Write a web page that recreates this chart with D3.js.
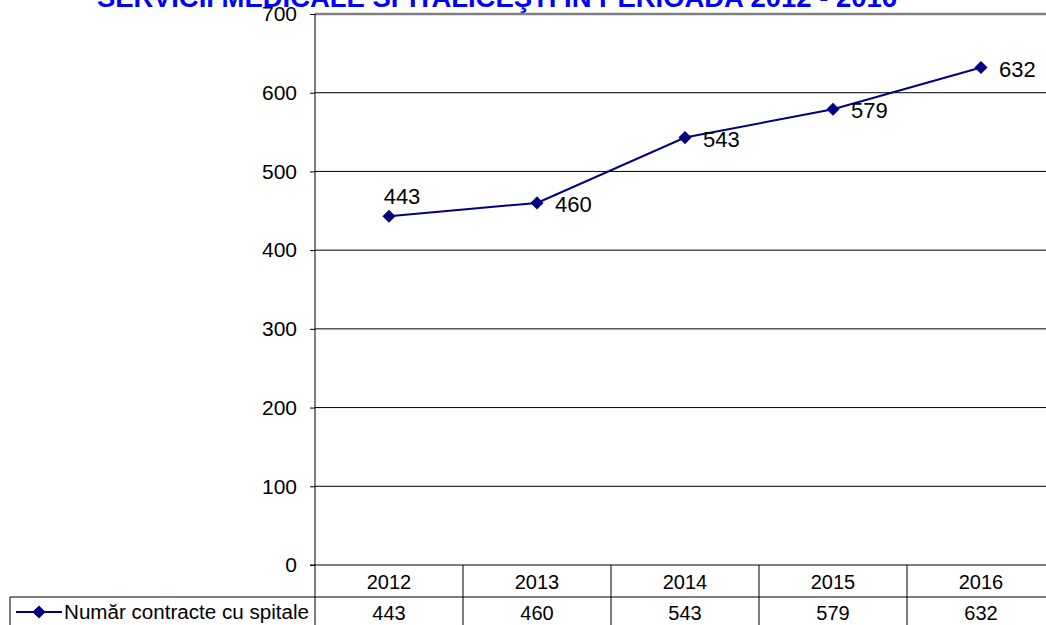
<!DOCTYPE html>
<html lang="ro">
<head>
<meta charset="utf-8" />
<title>Număr contracte cu spitale</title>
<script src="https://cdn.jsdelivr.net/npm/d3@7"></script>
<style>
  body { margin: 0; background: #fff; }
  svg { display: block; }
</style>
</head>
<body>
<svg id="chart" width="1046" height="625"></svg>
<script>
// data
const years = ["2012", "2013", "2014", "2015", "2016"];
const contracts = [443, 460, 543, 579, 632];
const yTicks = [0, 100, 200, 300, 400, 500, 600, 700];
const seriesName = "Număr contracte cu spitale";
const title = "SERVICII MEDICALE SPITALICEŞTI ÎN PERIOADA 2012 - 2016";

const font = "Liberation Sans, Arial, sans-serif";
const navy = "#000080";

const svg = d3.select("#chart").attr("font-family", font);

// plot frame
const plot = { left: 315, right: 1055, top: 14, bottom: 565 };

const x = d3.scaleBand().domain(years).range([plot.left, plot.right]).padding(0);
const y = d3.scaleLinear().domain([0, 700]).range([plot.bottom, plot.top]);

// title (cut at top edge like the source)
svg.append("text")
  .attr("x", 497).attr("y", 7)
  .attr("text-anchor", "middle")
  .attr("font-size", 27).attr("font-weight", "bold")
  .attr("textLength", 800)
  .attr("lengthAdjust", "spacingAndGlyphs")
  .attr("fill", "#0000ff")
  .text(title);

// gridlines
svg.append("g")
  .selectAll("line")
  .data(yTicks.filter(d => d > 0))
  .join("line")
  .attr("x1", plot.left).attr("x2", plot.right)
  .attr("y1", d => y(d)).attr("y2", d => y(d))
  .attr("stroke", d => d === 700 ? "#808080" : "#000")
  .attr("stroke-width", d => d === 700 ? 2.5 : 1);

// y axis
const yAxis = svg.append("g")
  .attr("transform", `translate(${plot.left},0)`)
  .call(d3.axisLeft(y).tickValues(yTicks).tickSize(5).tickSizeOuter(0).tickPadding(13));
yAxis.select(".domain").attr("stroke", "#000").attr("d", `M0,${plot.top}V625`);
yAxis.selectAll(".tick line").attr("stroke", "#000");
yAxis.selectAll("text")
  .attr("font-family", font).attr("font-size", 21).attr("fill", "#000");

// data table: x-axis line, row separator, column separators
svg.append("line")
  .attr("x1", plot.left - 5).attr("x2", plot.right)
  .attr("y1", plot.bottom).attr("y2", plot.bottom)
  .attr("stroke", "#000").attr("stroke-width", 1.2);
svg.append("line")
  .attr("x1", 10).attr("x2", plot.right)
  .attr("y1", plot.bottom + 32).attr("y2", plot.bottom + 32)
  .attr("stroke", "#000");
svg.append("line")
  .attr("x1", 10).attr("x2", 10)
  .attr("y1", plot.bottom + 32).attr("y2", 625)
  .attr("stroke", "#000");
svg.append("g")
  .selectAll("line")
  .data(years.slice(1))
  .join("line")
  .attr("x1", d => x(d)).attr("x2", d => x(d))
  .attr("y1", plot.bottom).attr("y2", 625)
  .attr("stroke", "#000");

// header row (years)
svg.append("g")
  .selectAll("text")
  .data(years)
  .join("text")
  .attr("x", d => x(d) + x.bandwidth() / 2)
  .attr("y", plot.bottom + 24)
  .attr("text-anchor", "middle")
  .attr("font-size", 20)
  .text(d => d);

// values row
svg.append("g")
  .selectAll("text")
  .data(contracts)
  .join("text")
  .attr("x", (d, i) => x(years[i]) + x.bandwidth() / 2)
  .attr("y", plot.bottom + 55)
  .attr("text-anchor", "middle")
  .attr("font-size", 20)
  .text(d => d);

// legend key in table
const diamond = d3.symbol().type(d3.symbolDiamond2).size(110);
svg.append("line")
  .attr("x1", 16).attr("x2", 62)
  .attr("y1", 612).attr("y2", 612)
  .attr("stroke", navy).attr("stroke-width", 2);
svg.append("path")
  .attr("d", diamond())
  .attr("transform", "translate(39,612)")
  .attr("fill", navy);
svg.append("text")
  .attr("x", 64).attr("y", 619)
  .attr("font-size", 20)
  .attr("textLength", 245)
  .attr("lengthAdjust", "spacingAndGlyphs")
  .text(seriesName);

// line series
const pts = contracts.map((v, i) => ({ year: years[i], value: v }));
const cx = d => x(d.year) + x.bandwidth() / 2;

svg.append("path")
  .datum(pts)
  .attr("fill", "none")
  .attr("stroke", navy)
  .attr("stroke-width", 2)
  .attr("d", d3.line().x(cx).y(d => y(d.value)));

svg.append("g")
  .selectAll("path")
  .data(pts)
  .join("path")
  .attr("d", diamond())
  .attr("transform", d => `translate(${cx(d)},${y(d.value)})`)
  .attr("fill", navy);

// data labels: first one above, rest to the right
svg.append("g")
  .selectAll("text")
  .data(pts)
  .join("text")
  .attr("x", (d, i) => i === 0 ? cx(d) + 13 : cx(d) + 18)
  .attr("y", (d, i) => i === 0 ? y(d.value) - 12 : y(d.value) + 9)
  .attr("text-anchor", (d, i) => i === 0 ? "middle" : "start")
  .attr("font-size", 22)
  .attr("fill", "#000")
  .text(d => d.value);
</script>
</body>
</html>
